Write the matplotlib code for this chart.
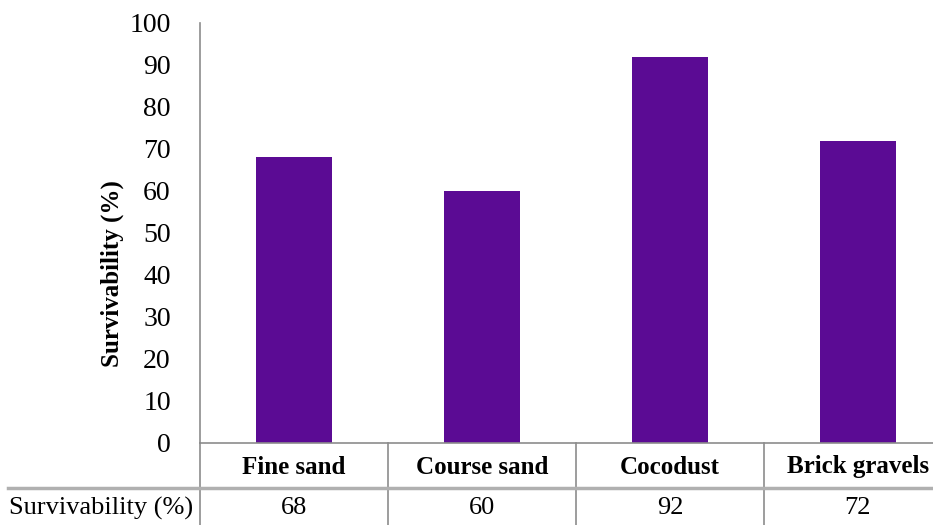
import matplotlib.pyplot as plt
from matplotlib.transforms import blended_transform_factory

plt.rcParams['font.family'] = ['Liberation Serif', 'DejaVu Serif']

materials = ['Fine sand', 'Course sand', 'Cocodust', 'Brick gravels']
survivability = [68, 60, 92, 72]
row_label = 'Survivability (%)'
yticks = list(range(0, 101, 10))

W, H = 933, 525
fig = plt.figure(figsize=(W / 100, H / 100), dpi=100)
ax = fig.add_axes([200 / W, 82 / H, 752 / W, 420 / H])

x = range(len(materials))
ax.bar(x, survivability, width=0.4, color='#5B0B94')

ax.set_xlim(-0.5, len(materials) - 0.5)
ax.set_ylim(0, 100)
ax.set_yticks(yticks)
ax.set_yticklabels([str(t) for t in yticks], fontsize=20)
ax.tick_params(axis='y', length=0, pad=21)
ax.set_xticks([])

for side in ('top', 'right'):
    ax.spines[side].set_visible(False)
for side in ('left', 'bottom'):
    ax.spines[side].set_color('#8c8c8c')
    ax.spines[side].set_linewidth(1.2)

fig.text(112 / W, 1 - 274 / H, row_label, rotation=90, ha='center', va='center',
         fontsize=18, fontweight='bold')

# data table under the plot
tr = blended_transform_factory(ax.transData, fig.transFigure)
y_axis = 82 / H
for i in range(len(materials)):
    ax.plot([i - 0.5, i - 0.5], [y_axis, 0], transform=tr, color='#8c8c8c',
            lw=1.2, clip_on=False)
fig.add_artist(plt.Line2D([8 / W, 1], [1 - 488 / H] * 2, color='#b0b0b0', lw=2.5))

for i, (name, val) in enumerate(zip(materials, survivability)):
    ax.text(i, 1 - 467 / H, name, transform=tr, ha='center', va='center',
            fontsize=18, fontweight='bold')
    ax.text(i, 1 - 508 / H, str(val), transform=tr, ha='center', va='center',
            fontsize=19)
fig.text(193 / W, 1 - 508 / H, row_label, ha='right', va='center', fontsize=19)

fig.savefig('out.png', dpi=100)
